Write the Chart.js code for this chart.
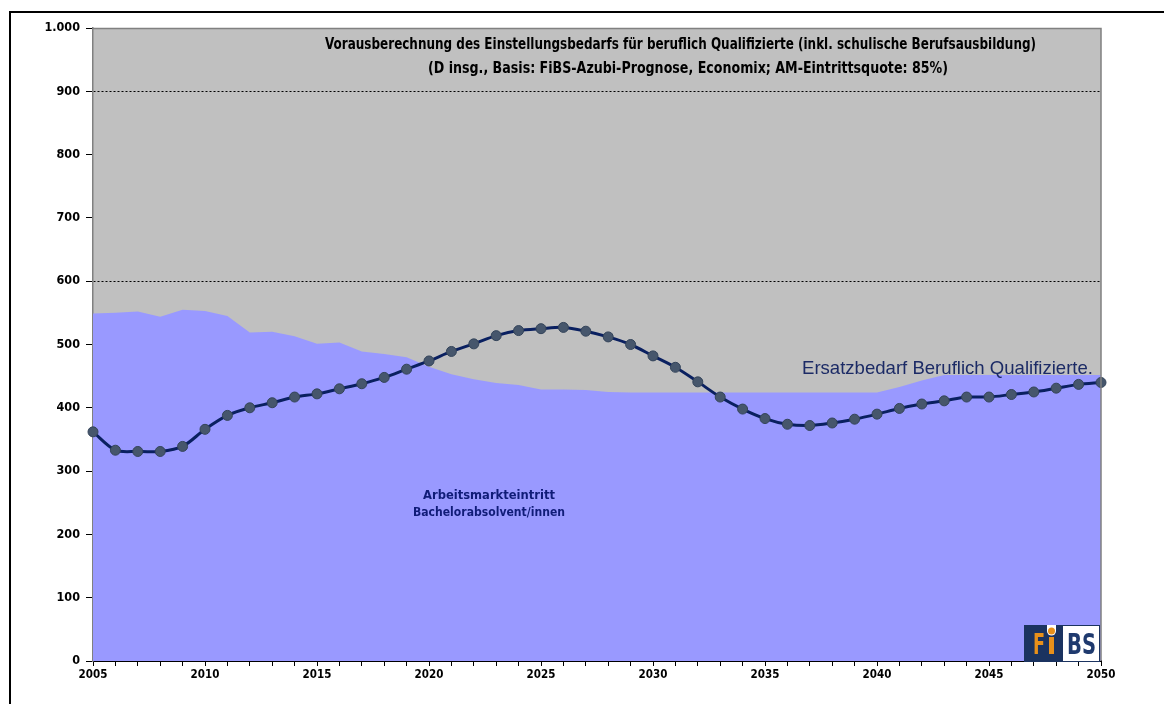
<!DOCTYPE html>
<html>
<head>
<meta charset="utf-8">
<title>Einstellungsbedarf beruflich Qualifizierte</title>
<script src="https://cdn.jsdelivr.net/npm/chart.js@4/dist/chart.umd.min.js"></script>
<style>
  body { margin: 0; background: #fff; width: 1164px; height: 704px; overflow: hidden; position: relative; }
  #frame { position: absolute; left: 9px; top: 11px; width: 1200px; height: 720px; border-left: 2px solid #000; border-top: 2px solid #000; }
  #my_Chart { position: absolute; left: 0; top: 0; }
  .txt { position: absolute; white-space: nowrap; transform-origin: 0 50%; }
  .title { font: bold 16px "Liberation Sans Narrow", "DejaVu Sans Condensed", "Arial Narrow", sans-serif; color: #000; line-height: 20px; }
  .inner { font: bold 13px "Liberation Sans Narrow", "DejaVu Sans Condensed", "Arial Narrow", sans-serif; color: #101c78; line-height: 16px; }
  .series { font: 18.5px "Liberation Sans", Arial, sans-serif; color: #1c2b66; line-height: 22px; }
</style>
</head>
<body>
<div id="frame"></div>
<canvas id="my_Chart" width="1164" height="704"></canvas>

<div class="txt title" data-w="711" style="left:325px; top:34px;">Vorausberechnung des Einstellungsbedarfs für beruflich Qualifizierte (inkl. schulische Berufsausbildung)</div>
<div class="txt title" data-w="520" style="left:428px; top:58px;">(D insg., Basis: FiBS-Azubi-Prognose, Economix; AM-Eintrittsquote: 85%)</div>
<div class="txt inner" data-w="132" style="left:423px; top:487px;">Arbeitsmarkteintritt</div>
<div class="txt inner" data-w="152" style="left:413px; top:504px;">Bachelorabsolvent/innen</div>
<div class="txt series" data-w="291" style="left:802px; top:357px;">Ersatzbedarf Beruflich Qualifizierte.</div>

<script>
// years on the x axis
var years = [];
for (var y = 2005; y <= 2050; y++) years.push(String(y));

// Ersatzbedarf Beruflich Qualifizierte (area)
var ersatzValues = [549, 550, 552, 544, 555, 553, 545, 519, 520, 513,
                    501, 503, 489, 485, 480, 465, 453, 445, 439, 436,
                    429, 429, 428, 425, 424, 424, 424, 424, 424, 424,
                    424, 424, 424, 424, 424, 424, 433, 443, 452, 452,
                    452, 452, 452, 452, 452, 452];

// Arbeitsmarkteintritt Bachelorabsolvent/innen (line)
var bachelorValues = [362, 333, 331, 331, 339, 366, 388, 400, 408, 417,
                      422, 430, 438, 448, 461, 474, 489, 501, 514, 522,
                      525, 527, 521, 512, 500, 482, 464, 441, 417, 398,
                      383, 374, 372, 376, 382, 390, 399, 406, 411, 417,
                      417, 421, 425, 431, 437, 440];

var yTicks = [0, 100, 200, 300, 400, 500, 600, 700, 800, 900, 1000];
var dottedLines = [600, 900];

var narrow = '"Liberation Sans Narrow", "DejaVu Sans Condensed", "Arial Narrow", sans-serif';

function formatThousands(v) {
	return String(v).replace(/\B(?=(\d{3})+(?!\d))/g, '.');
}

// draw text squeezed to a given width
function fitText(c, txt, x, y, w) {
	var m = c.measureText(txt).width;
	c.save();
	c.translate(x, y);
	c.scale(w / m, 1);
	c.fillText(txt, 0, 0);
	c.restore();
}

// grey plot area behind everything
var plotBg = {
	id: 'plotBg',
	beforeDraw: function(chart) {
		var a = chart.chartArea, c = chart.ctx;
		c.save();
		c.fillStyle = '#c0c0c0';
		c.fillRect(a.left, a.top, a.right - a.left, a.bottom - a.top);
		c.restore();
	}
};

// top / right border of the plot area and the FiBS logo
var plotFrame = {
	id: 'plotFrame',
	afterDraw: function(chart) {
		var a = chart.chartArea, c = chart.ctx;
		c.save();
		c.strokeStyle = '#808080';
		c.lineWidth = 1.5;
		c.beginPath();
		c.moveTo(a.left, a.top + 0.5);
		c.lineTo(a.right, a.top + 0.5);
		c.lineTo(a.right, a.bottom);
		c.stroke();

		// logo
		var x = a.right - 77, y = a.bottom - 36;
		c.fillStyle = '#1b3360';
		c.fillRect(x, y, 38, 37);
		c.fillStyle = '#fff';
		c.fillRect(x + 38, y, 38, 37);
		c.strokeStyle = '#1b3360';
		c.lineWidth = 1;
		c.strokeRect(x + 38.5, y + 0.5, 37, 36);
		// white notch for the i dot
		c.fillStyle = '#fff';
		c.beginPath();
		c.moveTo(x + 23, y);
		c.lineTo(x + 23, y + 6);
		c.arc(x + 27.5, y + 6, 4.5, Math.PI, 0, true);
		c.lineTo(x + 32, y);
		c.closePath();
		c.fill();
		c.fillStyle = '#e8901a';
		c.beginPath();
		c.arc(x + 27.5, y + 6, 3.5, 0, Math.PI * 2);
		c.fill();
		c.fillRect(x + 25, y + 12, 5, 17);
		c.font = 'bold 28px ' + narrow;
		c.textBaseline = 'alphabetic';
		fitText(c, 'F', x + 9, y + 29, 12);
		c.fillStyle = '#1f3a6e';
		fitText(c, 'BS', x + 43, y + 29, 29);
		c.restore();
	}
};

var ctx = document.getElementById('my_Chart').getContext('2d');
var myChart = new Chart(ctx, {
	type: 'line',
	data: {
		labels: years,
		datasets: [{
			label: 'Arbeitsmarkteintritt Bachelorabsolvent/innen',
			data: bachelorValues,
			borderColor: '#0a2060',
			borderWidth: 3,
			tension: 0.3,
			pointRadius: 5,
			pointBackgroundColor: '#46566c',
			pointBorderColor: '#34445a',
			pointBorderWidth: 1,
			fill: false,
			order: 0
		}, {
			label: 'Ersatzbedarf Beruflich Qualifizierte',
			data: ersatzValues,
			borderWidth: 0,
			borderColor: 'rgba(0,0,0,0)',
			backgroundColor: '#9999ff',
			pointRadius: 0,
			tension: 0,
			fill: 'origin',
			order: 1
		}]
	},
	options: {
		responsive: false,
		animation: false,
		devicePixelRatio: 1,
		layout: { padding: { left: 0, top: 28, right: 63, bottom: 0 } },
		plugins: {
			legend: { display: false },
			tooltip: { enabled: false }
		},
		scales: {
			x: {
				z: 1,
				offset: false,
				grid: { offset: false, drawOnChartArea: false, drawTicks: true, tickLength: 5, color: '#000', lineWidth: 1 },
				border: { color: '#000', width: 2 },
				ticks: {
					autoSkip: false,
					maxRotation: 0,
					padding: 2,
					color: '#000',
					font: { family: narrow, size: 11.5, weight: 'bold' },
					callback: function(val, i) { return Number(years[i]) % 5 === 0 ? years[i] : ''; }
				},
				afterFit: function(scale) { scale.height = 43; }
			},
			y: {
				z: 1,
				min: 0,
				max: 1000,
				afterBuildTicks: function(scale) { scale.ticks = yTicks.map(function(v) { return { value: v }; }); },
				grid: {
					drawOnChartArea: true,
					tickLength: 7,
					tickColor: '#000',
					lineWidth: 1,
					color: function(c) {
						return (c.tick && dottedLines.indexOf(c.tick.value) >= 0) ? '#000' : 'rgba(0,0,0,0)';
					}
				},
				border: { color: '#808080', width: 1.5, dash: [2, 2] },
				ticks: {
					padding: 6,
					color: '#000',
					font: { family: narrow, size: 12.5, weight: 'bold' },
					callback: function(v) { return formatThousands(v); }
				},
				afterFit: function(scale) { scale.width = 93; }
			}
		}
	},
	plugins: [plotBg, plotFrame]
});

// squeeze the text boxes to the widths measured on the picture
function fitTexts() {
	var els = document.querySelectorAll('.txt');
	for (var i = 0; i < els.length; i++) {
		var w = els[i].getBoundingClientRect().width;
		var target = Number(els[i].getAttribute('data-w'));
		if (w > 0 && target) els[i].style.transform = 'scaleX(' + (target / w) + ')';
	}
}
if (document.fonts && document.fonts.ready) document.fonts.ready.then(fitTexts); else fitTexts();
</script>
</body>
</html>
